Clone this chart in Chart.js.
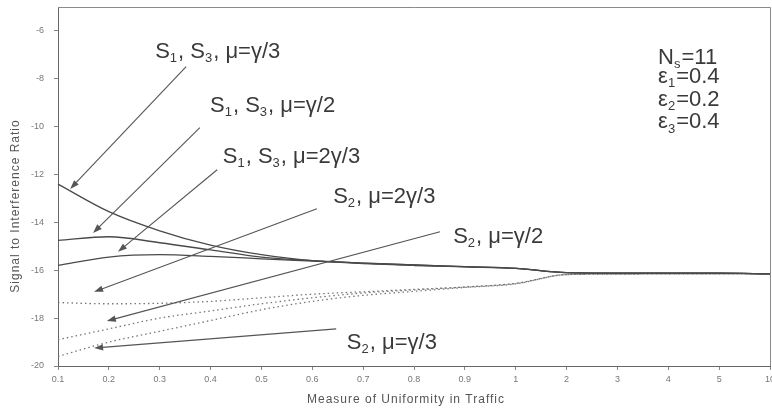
<!DOCTYPE html>
<html>
<head>
<meta charset="utf-8">
<script src="https://cdn.jsdelivr.net/npm/chart.js@4/dist/chart.umd.min.js"></script>
<style>
  html, body { margin: 0; padding: 0; background: #fff; }
  #wrap { width: 772px; height: 413px; }
</style>
</head>
<body>
<div id="wrap"><canvas id="chart"></canvas></div>
<script>
// x categories (axis is not to scale: 0.1 .. 1 then 2, 3, 4, 5, 10)
const xLabels = ['0.1', '0.2', '0.3', '0.4', '0.5', '0.6', '0.7', '0.8', '0.9', '1', '2', '3', '4', '5', '10'];
const xTitle = 'Measure of Uniformity in Traffic';
const yTitle = 'Signal to Interference Ratio';

// S1, S3 curves (solid)
const s13_g3  = [-12.4, -13.55, -14.35, -14.95, -15.35, -15.6, -15.72, -15.8, -15.86, -15.92, -16.1, -16.12, -16.12, -16.12, -16.15];
const s13_g2  = [-14.75, -14.6, -14.85, -15.15, -15.45, -15.6, -15.7, -15.78, -15.85, -15.92, -16.1, -16.12, -16.12, -16.12, -16.15];
const s13_2g3 = [-15.8, -15.45, -15.35, -15.42, -15.52, -15.62, -15.7, -15.78, -15.85, -15.92, -16.1, -16.12, -16.12, -16.12, -16.15];

// S2 curves (dotted)
const s2_2g3 = [-17.35, -17.4, -17.38, -17.3, -17.15, -17.0, -16.9, -16.8, -16.7, -16.55, -16.18, -16.16, -16.15, -16.15, -16.15];
const s2_g2  = [-18.9, -18.45, -18.0, -17.7, -17.4, -17.15, -16.95, -16.82, -16.7, -16.55, -16.18, -16.16, -16.15, -16.15, -16.15];
const s2_g3  = [-19.6, -19.0, -18.55, -18.1, -17.65, -17.3, -17.05, -16.88, -16.72, -16.57, -16.18, -16.16, -16.15, -16.15, -16.15];

// callouts: text ('_x' = subscript x), label anchor [idx, value], arrow from -> to in data units
const calloutText = ['S_1, S_3, μ=γ/3', 'S_1, S_3, μ=γ/2', 'S_1, S_3, μ=2γ/3', 'S_2, μ=2γ/3', 'S_2, μ=γ/2', 'S_2, μ=γ/3'];
const calloutAt   = [[1.91, -6.86], [2.99, -9.12], [3.24, -11.26], [5.41, -12.93], [7.77, -14.6], [5.68, -19.04]];
const arrowFrom   = [[2.52, -7.49], [2.79, -10.04], [3.13, -11.8], [5.09, -13.43], [7.51, -14.39], [5.47, -18.45]];
const arrowTo     = [[0.24, -12.6], [0.69, -14.44], [1.18, -15.23], [0.71, -16.9], [0.96, -18.12], [0.71, -19.25]];

// parameter box, top right
const paramText = ['N_s=11', 'ε_1=0.4', 'ε_2=0.2', 'ε_3=0.4'];
const paramAt   = [[11.8, -7.12], [11.8, -7.93], [11.8, -8.88], [11.8, -9.82]];

const FAMILY = '"Liberation Sans", Arial, sans-serif';

function drawRich(ctx, str, x, y, size) {
  // '_c' draws c as subscript
  const parts = str.split(/_(.)/);
  ctx.textBaseline = 'middle';
  ctx.textAlign = 'left';
  parts.forEach((p, i) => {
    if (!p) return;
    const sub = i % 2 === 1;
    ctx.font = (sub ? Math.round(size * 0.6) : size) + 'px ' + FAMILY;
    ctx.fillText(p, x, sub ? y + size * 0.3 : y);
    x += ctx.measureText(p).width + (sub ? 1 : 0);
  });
}

function arrow(ctx, x1, y1, x2, y2) {
  const a = Math.atan2(y2 - y1, x2 - x1);
  const len = 9, w = 3.2;
  ctx.beginPath();
  ctx.moveTo(x1, y1);
  ctx.lineTo(x2 - Math.cos(a) * len * 0.6, y2 - Math.sin(a) * len * 0.6);
  ctx.stroke();
  ctx.beginPath();
  ctx.moveTo(x2, y2);
  ctx.lineTo(x2 - Math.cos(a) * len + Math.sin(a) * w, y2 - Math.sin(a) * len - Math.cos(a) * w);
  ctx.lineTo(x2 - Math.cos(a) * len - Math.sin(a) * w, y2 - Math.sin(a) * len + Math.cos(a) * w);
  ctx.closePath();
  ctx.fill();
}

const callouts = {
  id: 'callouts',
  afterDatasetsDraw(chart) {
    const ctx = chart.ctx, xs = chart.scales.x, ys = chart.scales.y, ca = chart.chartArea;
    ctx.save();
    // frame
    ctx.strokeStyle = '#8a8a8a';
    ctx.lineWidth = 1;
    ctx.beginPath();
    ctx.moveTo(ca.left, ca.top + 0.5);
    ctx.lineTo(ca.right + 0.5, ca.top + 0.5);
    ctx.lineTo(ca.right + 0.5, ca.bottom);
    ctx.stroke();

    ctx.strokeStyle = '#555';
    ctx.fillStyle = '#555';
    ctx.lineWidth = 1.1;
    arrowFrom.forEach((f, i) => {
      const t = arrowTo[i];
      arrow(ctx, xs.getPixelForValue(f[0]), ys.getPixelForValue(f[1]),
                 xs.getPixelForValue(t[0]), ys.getPixelForValue(t[1]));
    });
    ctx.fillStyle = '#3a3a3a';
    calloutText.forEach((s, i) => {
      drawRich(ctx, s, xs.getPixelForValue(calloutAt[i][0]), ys.getPixelForValue(calloutAt[i][1]), 22);
    });
    paramText.forEach((s, i) => {
      drawRich(ctx, s, xs.getPixelForValue(paramAt[i][0]), ys.getPixelForValue(paramAt[i][1]), 22);
    });

    // axis titles (the scanned original is letter-spaced)
    ctx.fillStyle = '#555';
    ctx.font = '12px ' + FAMILY;
    ctx.letterSpacing = '1px';
    ctx.textAlign = 'center';
    ctx.textBaseline = 'middle';
    ctx.fillText(xTitle, 406, 400);
    ctx.translate(16, 206);
    ctx.rotate(-Math.PI / 2);
    ctx.fillText(yTitle, 0, 0);
    ctx.restore();
  }
};

const solid = { borderColor: '#4a4a4a', borderWidth: 1.3, pointRadius: 0, fill: false, cubicInterpolationMode: 'monotone' };
const dotted = { borderColor: '#777', borderWidth: 1.3, borderDash: [1.5, 3], pointRadius: 0, fill: false, cubicInterpolationMode: 'monotone' };
const tickFont = { size: 9, family: FAMILY };

new Chart(document.getElementById('chart'), {
  type: 'line',
  data: {
    labels: xLabels,
    datasets: [
      { label: 'S1, S3, μ=γ/3', data: s13_g3, ...solid },
      { label: 'S1, S3, μ=γ/2', data: s13_g2, ...solid },
      { label: 'S1, S3, μ=2γ/3', data: s13_2g3, ...solid },
      { label: 'S2, μ=2γ/3', data: s2_2g3, ...dotted },
      { label: 'S2, μ=γ/2', data: s2_g2, ...dotted },
      { label: 'S2, μ=γ/3', data: s2_g3, ...dotted }
    ]
  },
  options: {
    responsive: true,
    maintainAspectRatio: false,
    animation: false,
    layout: { padding: { top: 7, right: 2, left: 0, bottom: 0 } },
    plugins: { legend: { display: false }, tooltip: { enabled: false } },
    scales: {
      x: {
        type: 'category',
        grid: { display: true, drawOnChartArea: false, tickLength: 4, color: '#888' },
        border: { color: '#666' },
        ticks: { autoSkip: false, maxRotation: 0, padding: 4, color: '#777', font: tickFont },
        title: { display: false, text: xTitle },
        afterFit(scale) { scale.height = 47; scale.paddingLeft = 0; scale.paddingRight = 0; }
      },
      y: {
        min: -20,
        max: -5,
        grid: { display: true, drawOnChartArea: false, tickLength: 4, color: '#888' },
        border: { color: '#666' },
        ticks: { stepSize: 2, padding: 10, color: '#777', font: tickFont },
        afterBuildTicks(scale) { scale.ticks = scale.ticks.filter(t => t.value % 2 === 0); },
        title: { display: false, text: yTitle },
        afterFit(scale) { scale.width = 58; scale.paddingTop = 0; scale.paddingBottom = 0; }
      }
    }
  },
  plugins: [callouts]
});
</script>
</body>
</html>
